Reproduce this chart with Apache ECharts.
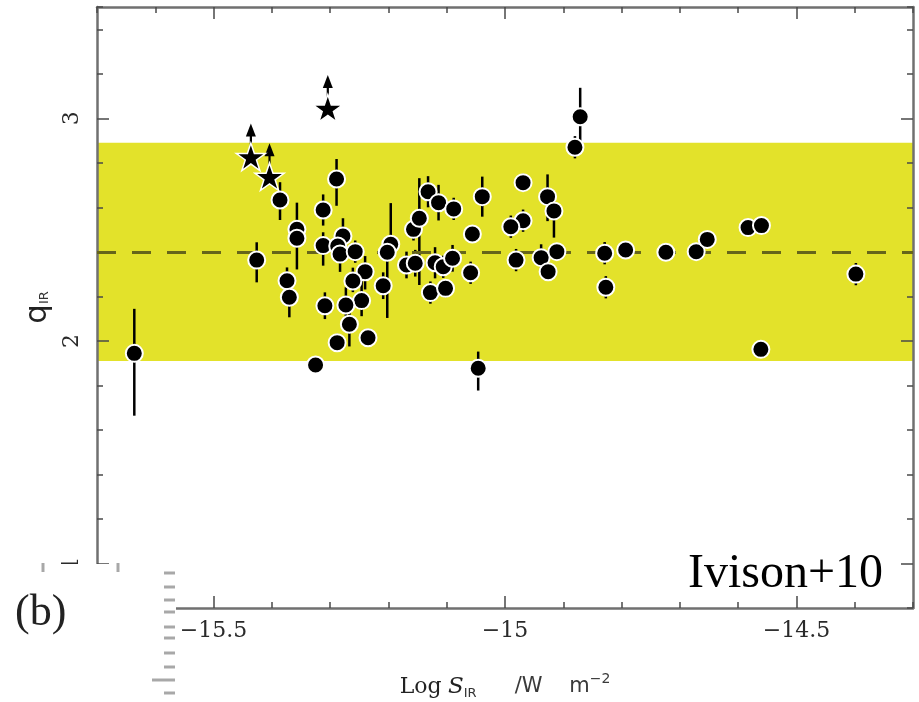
<!DOCTYPE html>
<html><head><meta charset="utf-8">
<script src="https://cdn.jsdelivr.net/npm/echarts@6.0.0/dist/echarts.min.js"></script>
<style>html,body{margin:0;padding:0;background:#fff}#chart{width:919px;height:702px}</style>
</head><body><div id="chart"></div><script>
// ---- data ----
const sirX = [-15.636,-15.426,-15.386,-15.357,-15.357,-15.374,-15.370,-15.312,-15.289,-15.312,
  -15.278,-15.287,-15.283,-15.257,-15.240,-15.261,-15.209,-15.246,-15.273,-15.309,
  -15.267,-15.288,-15.235,-15.325,-15.196,-15.202,-15.169,-15.154,-15.157,-15.147,
  -15.132,-15.114,-15.088,-15.120,-15.106,-15.090,-15.128,-15.102,-15.039,-15.056,
  -15.059,-15.046,-14.969,-14.927,-14.916,-14.969,-14.990,-14.981,-14.938,-14.926,
  -14.911,-14.871,-14.880,-14.829,-14.827,-14.793,-14.724,-14.672,-14.653,-14.583,
  -14.560,-14.561,-14.398];
const qIR = [1.944,2.363,2.633,2.501,2.461,2.270,2.196,2.588,2.727,2.428,
  2.471,2.426,2.390,2.401,2.311,2.269,2.248,2.181,2.161,2.158,
  2.075,1.992,2.014,1.892,2.434,2.398,2.341,2.349,2.501,2.551,
  2.670,2.621,2.593,2.351,2.333,2.371,2.217,2.236,2.648,2.480,
  2.306,1.877,2.711,2.648,2.584,2.540,2.513,2.363,2.374,2.311,
  2.401,3.007,2.870,2.394,2.241,2.408,2.398,2.401,2.456,2.509,
  2.518,1.962,2.300];
const qErrDown = [0.28,0.10,0.09,0.06,0.14,0.06,0.09,0.07,0.12,0.09,
  0.06,0.05,0.08,0.05,0.08,0.05,0.06,0.07,0.08,0.06,
  0.10,0.04,0.04,0.03,0.07,0.295,0.06,0.06,0.05,0.30,
  0.07,0.08,0.05,0.07,0.05,0.06,0.05,0.04,0.09,0.04,
  0.05,0.10,0.04,0.11,0.12,0.05,0.05,0.05,0.06,0.03,
  0.03,0.12,0.05,0.05,0.05,0.02,0.02,0.02,0.02,0.02,
  0.02,0.02,0.05];
const qErrUp = [0.20,0.08,0.08,0.12,0.06,0.06,0.05,0.07,0.09,0.06,
  0.08,0.05,0.05,0.05,0.07,0.06,0.06,0.09,0.08,0.06,
  0.10,0.04,0.04,0.03,0.185,0.07,0.06,0.06,0.05,0.18,
  0.07,0.08,0.05,0.07,0.05,0.06,0.05,0.04,0.09,0.04,
  0.05,0.075,0.04,0.10,0.06,0.05,0.05,0.05,0.06,0.03,
  0.03,0.13,0.05,0.05,0.05,0.02,0.02,0.02,0.02,0.02,
  0.02,0.02,0.05];
const starX = [-15.436,-15.404,-15.304];
const starQ = [2.827,2.738,3.045];
const bandLow = 1.91, bandHigh = 2.89, meanQ = 2.40;
const xTickLabels = [-15.5,-15,-14.5];
const yTickLabels = [1,2,3];
const xRange = [-15.7,-14.3];
const yRange = [0.8,3.5];

// ---- styling ----
const ARROW_LEN = 0.15;
const tickColor = '#4a4a4a', lineColor = '#707070', labelColor = '#2a2a2a';
const labelFont = {fontFamily:'DejaVu Serif', fontSize:22, color:labelColor};

function xAxisDef(pos, major, showLine, extra) {
  return Object.assign({
    type:'value', position:pos, min:xRange[0], max:xRange[1], z:3,
    interval: major ? undefined : 0.1,
    splitLine:{show:false},
    axisLine:{show:showLine, onZero:false, lineStyle:{color:lineColor, width:2.5}},
    axisTick:Object.assign({show:true, inside:true, length: major ? 12 : 6,
      lineStyle:{color:tickColor, width:1.5}}, major ? {customValues:xTickLabels} : {}),
    axisLabel:{show:false}
  }, extra || {});
}
function yAxisDef(pos, major, showLine, extra) {
  return Object.assign({
    type:'value', position:pos, min:yRange[0], max:yRange[1], z:3,
    interval: major ? undefined : 0.2,
    splitLine:{show:false},
    axisLine:{show:showLine, onZero:false, lineStyle:{color:lineColor, width:2.5}},
    axisTick:Object.assign({show:true, inside:true, length: major ? 12 : 6,
      lineStyle:{color:tickColor, width:1.5}}, major ? {customValues:yTickLabels} : {}),
    axisLabel:{show:false}
  }, extra || {});
}

const chart = echarts.init(document.getElementById('chart'), null, {renderer:'canvas'});

const ruler = [];
const rulerY = [573,587,600,612,627,638,653,667,680,693];
rulerY.forEach((yy,i)=>{
  const long = (i === 8);
  ruler.push({type:'rect', z:101, shape:{x: long?152:164, y:yy-1.5, width: long?23:11, height:3},
    style:{fill:'#a8a8a8'}});
});

const option = {
  animation:false,
  backgroundColor:'#fff',
  grid:{left:97, right:6, top:7, bottom:94, containLabel:false, outerBoundsMode:'none'},
  xAxis:[
    xAxisDef('bottom', false, true, {
      axisLabel:Object.assign({show:true, customValues:xTickLabels, margin:12,
        formatter:v=>'\u2212'+Math.abs(v)}, labelFont),
      name:'{a|Log} {s|S}{sub|IR}      {u|/W    m}{sup|\u22122}',
      nameLocation:'middle', nameGap:64,
      nameTextStyle:{fontFamily:'DejaVu Sans', fontSize:20, color:'#333', rich:{
        a:{fontFamily:'DejaVu Serif', fontSize:22, color:'#222'},
        s:{fontFamily:'DejaVu Serif', fontStyle:'italic', fontSize:23, color:'#222'},
        sub:{fontFamily:'DejaVu Sans', fontSize:13, color:'#333', padding:[14,0,0,0]},
        u:{fontFamily:'DejaVu Sans', fontSize:21, color:'#3a3a3a'},
        sup:{fontFamily:'DejaVu Sans', fontSize:14, color:'#3a3a3a', padding:[0,0,16,0]}
      }}
    }),
    xAxisDef('bottom', true, false),
    xAxisDef('top', false, true),
    xAxisDef('top', true, false)
  ],
  yAxis:[
    yAxisDef('left', false, true, {
      axisLabel:Object.assign({show:true, customValues:yTickLabels, rotate:90, margin:14}, labelFont),
      name:'{q|q}{sub|IR}', nameLocation:'middle', nameRotate:90, nameGap:44,
      nameTextStyle:{rich:{
        q:{fontFamily:'DejaVu Sans', fontSize:31, color:'#222'},
        sub:{fontFamily:'DejaVu Sans', fontSize:13, color:'#333', padding:[14,0,0,0]}
      }}
    }),
    yAxisDef('left', true, false),
    yAxisDef('right', false, true),
    yAxisDef('right', true, false)
  ],
  series:[
    {
      type:'line', data:[], z:1, silent:true, symbol:'none',
      markArea:{silent:true, itemStyle:{color:'#e3e22a', opacity:1},
        data:[[{yAxis:bandLow},{yAxis:bandHigh}]]},
      markLine:{silent:true, symbol:'none', label:{show:false},
        lineStyle:{color:'#66651a', width:3, type:[19,16], opacity:1},
        data:[{yAxis:meanQ}]}
    },
    {
      type:'custom', z:4, silent:true,
      data: sirX.map((x,i)=>[x, qIR[i], qErrDown[i], qErrUp[i]]),
      encode:{x:0, y:1},
      renderItem:(params, api)=>{
        const x = api.value(0), y = api.value(1);
        const p1 = api.coord([x, y - api.value(2)]);
        const p2 = api.coord([x, y + api.value(3)]);
        return {type:'line', shape:{x1:p1[0], y1:p1[1], x2:p2[0], y2:p2[1]},
          style:{stroke:'#000', lineWidth:2.5}};
      }
    },
    {
      type:'scatter', z:5, silent:true,
      data: sirX.map((x,i)=>[x, qIR[i]]),
      symbol:'circle', symbolSize:17,
      itemStyle:{color:'#000', borderColor:'#fff', borderWidth:2, opacity:1}
    },
    {
      type:'custom', z:4, silent:true,
      data: starX.map((x,i)=>[x, starQ[i]]),
      encode:{x:0, y:1},
      renderItem:(params, api)=>{
        const x = api.value(0), y = api.value(1);
        const c = api.coord([x, y]);
        const t = api.coord([x, y + ARROW_LEN]);
        return {type:'group', children:[
          {type:'line', shape:{x1:c[0], y1:c[1], x2:t[0], y2:t[1]+8}, style:{stroke:'#000', lineWidth:2.2}},
          {type:'polygon', shape:{points:[[t[0],t[1]],[t[0]-5,t[1]+13],[t[0]+5,t[1]+13]]}, style:{fill:'#000'}}
        ]};
      }
    },
    {
      type:'scatter', z:6, silent:true,
      data: starX.map((x,i)=>[x, starQ[i]]),
      symbol:'path://M50,0 L61.8,35.3 L99,35.3 L69,57.1 L80.4,92.6 L50,70.7 L19.6,92.6 L31,57.1 L1,35.3 L38.2,35.3 Z',
      symbolSize:29, symbolKeepAspect:true,
      itemStyle:{color:'#000', borderColor:'#fff', borderWidth:1.5, opacity:1}
    }
  ],
  graphic:[
    {type:'rect', z:100, shape:{x:0, y:564, width:176, height:138}, style:{fill:'#fff'}},
    {type:'rect', z:101, shape:{x:41.5, y:563, width:3, height:9}, style:{fill:'#a8a8a8'}},
    {type:'rect', z:101, shape:{x:116.5, y:563, width:3, height:9}, style:{fill:'#a8a8a8'}},
    {type:'text', z:101, x:15, y:613, style:{text:'(b)', fontFamily:'Liberation Serif', fontSize:44,
      fill:'#222', verticalAlign:'middle'}},
    ...ruler,
    {type:'text', z:101, x:688, y:574, style:{text:'Ivison+10', fontFamily:'Liberation Serif', fontSize:48,
      fill:'#000', verticalAlign:'middle'}}
  ]
};
chart.setOption(option);
</script></body></html>
